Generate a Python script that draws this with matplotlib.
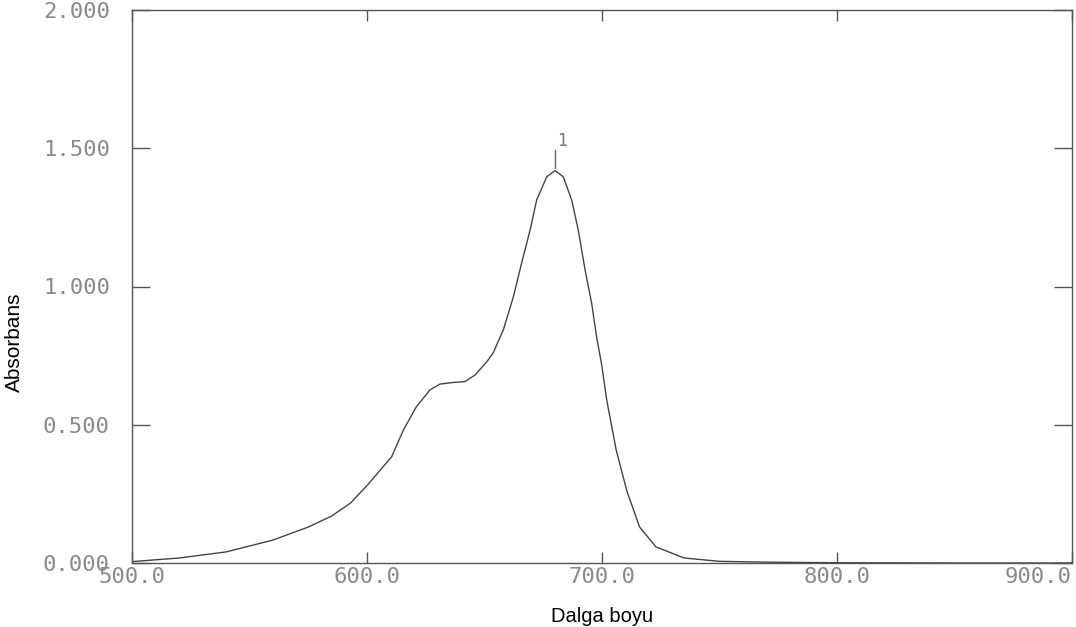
import matplotlib
matplotlib.use("Agg")
import matplotlib.pyplot as plt
import numpy as np

# wavelength (nm) and absorbance
wavelength = [500, 520, 540, 560, 575, 585, 593, 600, 605, 610.5, 615.5, 621,
              626.8, 631, 636.7, 641.7, 646, 651, 653.7, 658, 662.3, 665.8,
              669.4, 672.2, 676.5, 680, 683.5, 687.1, 689.9, 692.8, 695.6,
              697.7, 700, 702, 706, 710.6, 716, 723, 735, 750, 770, 800, 850, 900]
absorbance = [0.005, 0.018, 0.04, 0.083, 0.13, 0.17, 0.217, 0.28, 0.33, 0.384,
              0.481, 0.565, 0.626, 0.647, 0.653, 0.656, 0.68, 0.728, 0.76, 0.843,
              0.963, 1.085, 1.204, 1.313, 1.397, 1.419, 1.397, 1.313, 1.204,
              1.06, 0.939, 0.818, 0.71, 0.59, 0.41, 0.26, 0.13, 0.058, 0.018,
              0.006, 0.003, 0.001, 0.0, 0.0]

x_ticks = [500, 600, 700, 800, 900]
x_labels = ["500.0", "600.0", "700.0", "800.0", "900.0"]
y_ticks = [0.0, 0.5, 1.0, 1.5, 2.0]
y_labels = ["0.000", "0.500", "1.000", "1.500", "2.000"]
peak_label = "1"
peak_x, peak_y = 680, 1.419

line_col = "#555555"
tick_col = "#8a8a8a"

fig = plt.figure(figsize=(10.76, 6.27), dpi=100)
ax = fig.add_axes([132 / 1076, 1 - 563 / 627, 940 / 1076, 553 / 627])

ax.plot(wavelength, absorbance, color="#444444", lw=1.0)

# peak marker
ax.plot([peak_x, peak_x], [peak_y + 0.01, peak_y + 0.075], color="#666666", lw=1.0)
ax.text(peak_x + 3, peak_y + 0.075, peak_label, fontsize=12, family="DejaVu Sans Mono",
        color="#777777", ha="center", va="bottom")

ax.set_xlim(500, 900)
ax.set_ylim(0, 2)
ax.set_xticks(x_ticks)
ax.set_xticklabels(x_labels)
ax.set_yticks(y_ticks)
ax.set_yticklabels(y_labels)

for lab in ax.get_xticklabels() + ax.get_yticklabels():
    lab.set_family("DejaVu Sans Mono")
    lab.set_fontsize(16)
    lab.set_color(tick_col)
ax.get_xticklabels()[-1].set_ha("right")
ax.get_xticklabels()[-1].set_x(900)

ax.tick_params(axis="y", direction="in", length=13, width=1.0, color=line_col,
               left=True, right=True, pad=16)
ax.tick_params(axis="x", direction="in", length=8, width=1.0, color=line_col,
               top=True, bottom=True, pad=3)

for sp in ax.spines.values():
    sp.set_color(line_col)
    sp.set_linewidth(1.0)

ax.set_ylabel("Absorbans", family=["Liberation Sans Narrow", "Liberation Sans"],
              fontsize=15, labelpad=4)
ax.set_xlabel("Dalga boyu", family="Liberation Sans", fontsize=14.5, labelpad=14)
ax.yaxis.set_label_coords(-0.115, 0.4)

fig.savefig("out.png", dpi=100)
